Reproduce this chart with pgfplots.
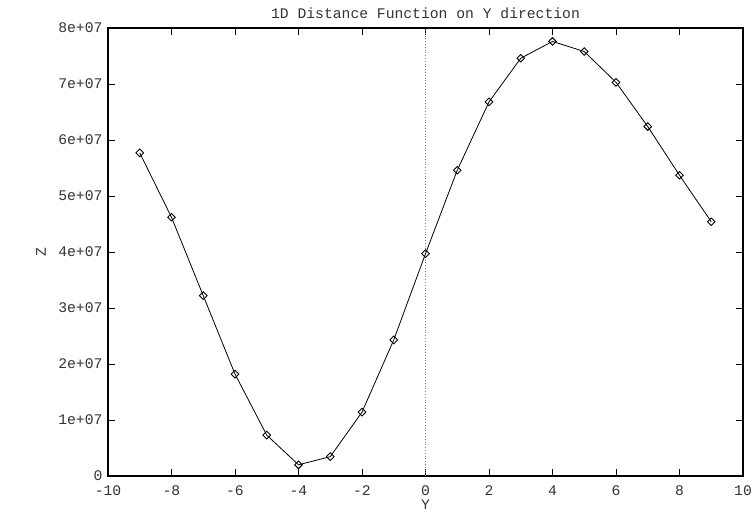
\documentclass[border=0pt]{standalone}
\usepackage{fontspec}
\setmainfont{Liberation Mono}
\usepackage{pgfplots}
\pgfplotsset{compat=1.18}

\begin{document}
\begin{tikzpicture}[x=1pt,y=1pt,font=\fontsize{14.7}{17}\selectfont]
\useasboundingbox (-108,-36) rectangle (645,476);
\begin{axis}[
  at={(0,0)}, anchor=south west,
  scale only axis, width=635pt, height=448pt,
  xmin=-10, xmax=10, ymin=0, ymax=8e7,
  xtick={-10,-8,-6,-4,-2,0,2,4,6,8,10},
  xticklabels={-10,-8,-6,-4,-2,0,2,4,6,8,10},
  ytick={0,1e7,2e7,3e7,4e7,5e7,6e7,7e7,8e7},
  yticklabels={0,1e+07,2e+07,3e+07,4e+07,5e+07,6e+07,7e+07,8e+07},
  scaled y ticks=false,
  tick align=inside,
  major tick length=7pt,
  tick style={black, line width=0.8pt},
  axis line style={black, line width=1.2pt},
  every tick label/.append style={font=\fontsize{14.7}{17}\selectfont, text=black!80},
  yticklabel style={xshift=-2pt},
  xticklabel style={anchor=base, yshift=-19pt, inner sep=0pt, text depth=0pt},
  every axis title shift=0pt,
  title={1D Distance Function on Y direction},
  title style={font=\fontsize{14.7}{17}\selectfont, text=black!80,
    at={(axis description cs:0.5,1.0223)}, anchor=base},
  xlabel={Y},
  ylabel={Z},
  xlabel style={font=\fontsize{14.7}{17}\selectfont, text=black!80,
    at={(axis description cs:0.5,-0.0737)}, anchor=base,
    inner sep=0pt, text height=0.62em, text depth=0pt},
  ylabel style={font=\fontsize{14.7}{17}\selectfont, text=black!80,
    at={(axis description cs:-0.1055,0.5)}, anchor=center},
  clip=false,
]
% vertical zero line
\addplot[gray, dotted, line width=0.8pt, forget plot] coordinates {(0,0) (0,8e7)};
% distance function samples
\addplot[black, line width=0.8pt, mark=square, mark size=2.7pt,
  mark options={rotate=45, solid, fill=white, line width=0.9pt}]
  coordinates {
  (-9,5.77e7) (-8,4.62e7) (-7,3.22e7) (-6,1.82e7) (-5,0.73e7)
  (-4,0.20e7) (-3,0.345e7) (-2,1.14e7) (-1,2.43e7) (0,3.97e7)
  (1,5.46e7) (2,6.68e7) (3,7.46e7) (4,7.76e7) (5,7.58e7)
  (6,7.03e7) (7,6.24e7) (8,5.37e7) (9,4.54e7)
  };
\end{axis}
\end{tikzpicture}
\end{document}
